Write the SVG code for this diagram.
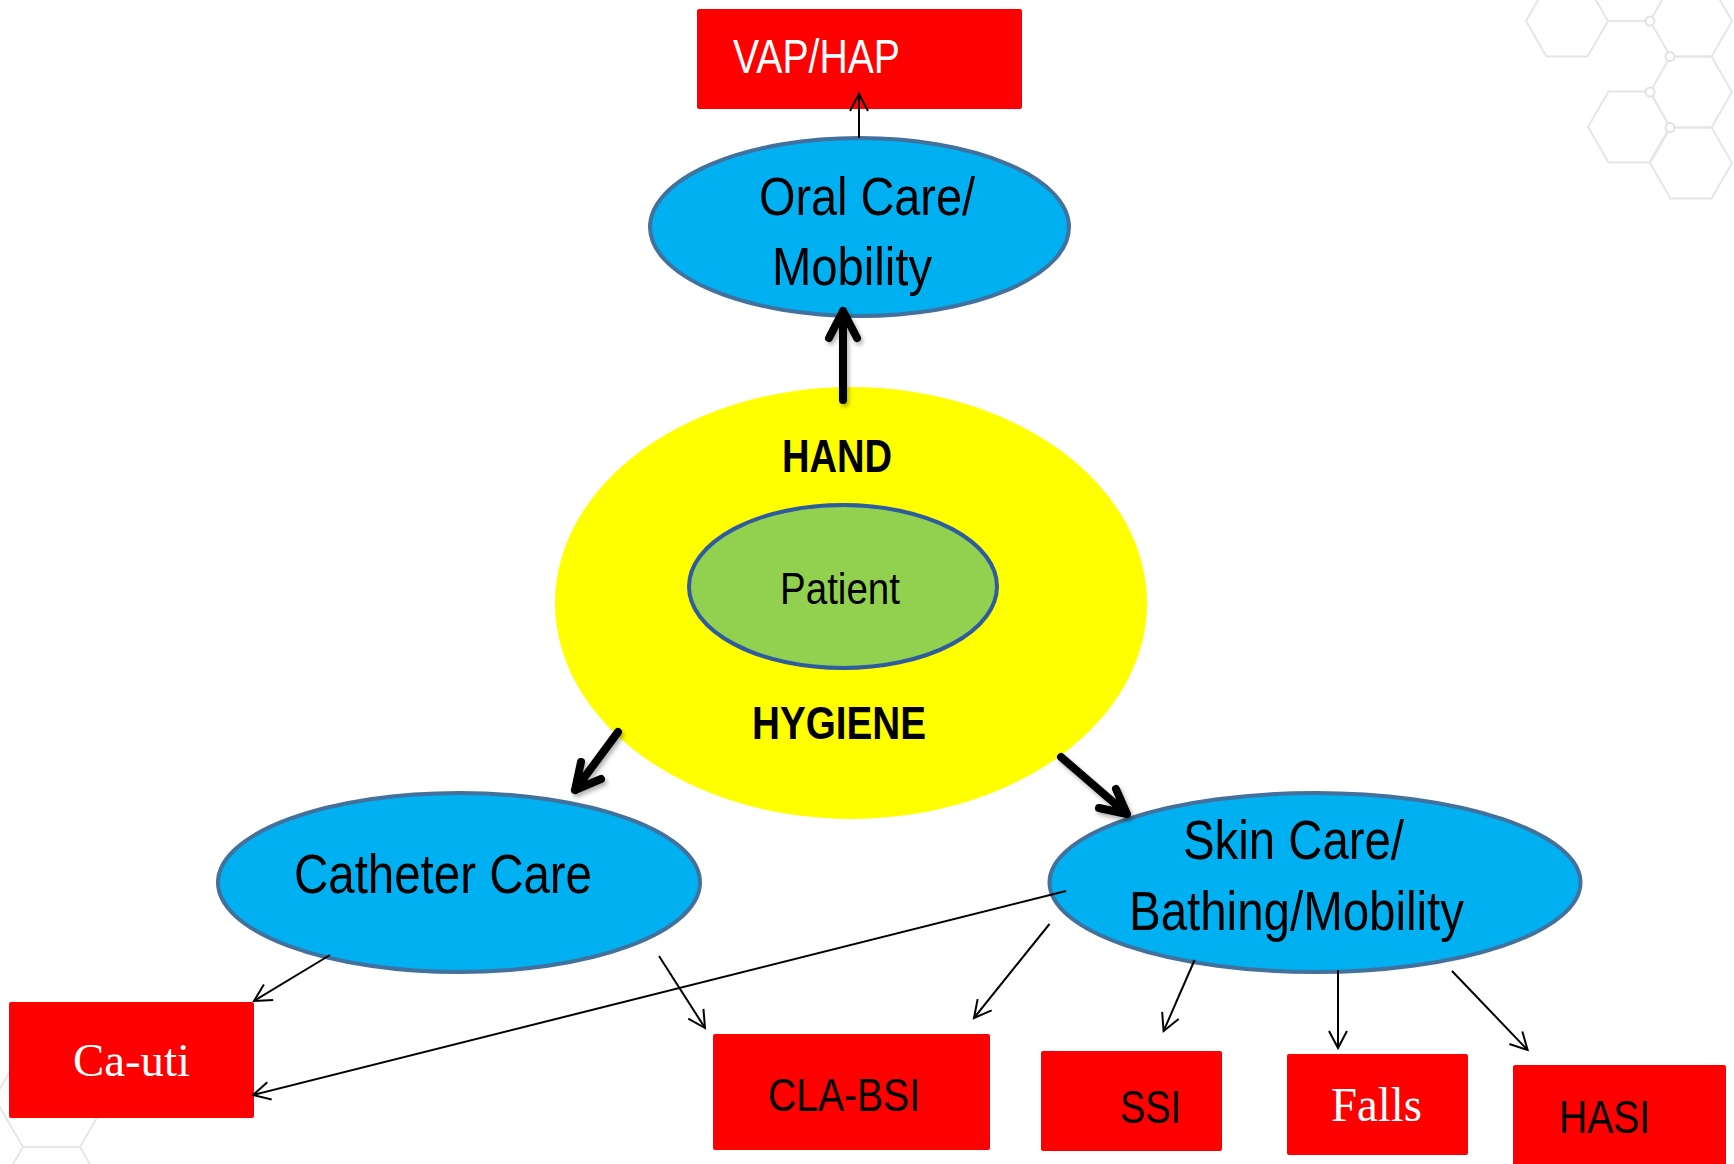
<svg xmlns="http://www.w3.org/2000/svg" width="1734" height="1164" viewBox="0 0 1734 1164">
  <defs>
    <style>
      .bg { fill: none; stroke: #e6e6e6; stroke-width: 2; }
      .dot { fill: #ffffff; stroke: #e2e2e2; stroke-width: 2; }
      .blue { fill: #00B0F0; stroke: #41719C; stroke-width: 4; }
      .red { fill: #FF0000; }
      .sans { font-family: "Liberation Sans", Arial, sans-serif; fill: #000; }
      .serif { font-family: "Liberation Serif", "Times New Roman", serif; fill: #fff; }
      .thin { fill: none; stroke: #000; stroke-width: 2; }
      .thick { fill: none; stroke: #000; stroke-width: 8; stroke-linecap: round; stroke-linejoin: round; }
    </style>
    <marker id="thinHead" markerUnits="userSpaceOnUse" markerWidth="40" markerHeight="40" refX="0" refY="0" orient="auto" overflow="visible">
      <path d="M-17,-9 L0,0 L-17,9" fill="none" stroke="#000" stroke-width="2"/>
    </marker>
    <filter id="shadow" x="-30%" y="-30%" width="160%" height="160%">
      <feDropShadow dx="2" dy="3" stdDeviation="2" flood-color="#000" flood-opacity="0.3"/>
    </filter>
  </defs>
  <rect x="0" y="0" width="1734" height="1164" fill="#ffffff"/>

  <g id="background-hexagons">
    <polygon class="bg" points="1526,21 1546.5,-14.5 1587.5,-14.5 1608,21 1587.5,56.5 1546.5,56.5"/>
    <line class="bg" x1="1608" y1="21" x2="1650" y2="21"/>
    <polygon class="bg" points="1650,21 1670.5,-14.5 1711.5,-14.5 1732,21 1711.5,56.5 1670.5,56.5"/>
    <polygon class="bg" points="1650,92 1670.5,56.5 1711.5,56.5 1732,92 1711.5,127.5 1670.5,127.5"/>
    <polygon class="bg" points="1588,127 1608.5,91.5 1649.5,91.5 1670,127 1649.5,162.5 1608.5,162.5"/>
    <polygon class="bg" points="1650,163 1670.5,127.5 1711.5,127.5 1732,163 1711.5,198.5 1670.5,198.5"/>
    <circle class="dot" cx="1650" cy="21" r="4.5"/>
    <circle class="dot" cx="1670" cy="56.5" r="4.5"/>
    <circle class="dot" cx="1650" cy="92" r="4.5"/>
    <circle class="dot" cx="1670" cy="127.5" r="4.5"/>
    <polygon class="bg" points="-5.5,1098 23,1048.6 80,1048.6 108.5,1098 80,1147 23,1147"/>
    <polyline class="bg" points="-5.5,1196 23,1147"/>
    <polyline class="bg" points="108.5,1196 80,1147"/>
  </g>

  <g id="hand-hygiene">
    <ellipse cx="851" cy="603" rx="296" ry="216" fill="#FFFF00"/>
    <text class="sans" x="782" y="472" font-size="47" font-weight="bold" textLength="110" lengthAdjust="spacingAndGlyphs">HAND</text>
    <text class="sans" x="752" y="739" font-size="47" font-weight="bold" textLength="174" lengthAdjust="spacingAndGlyphs">HYGIENE</text>
  </g>

  <g id="patient">
    <ellipse cx="843" cy="586.5" rx="154" ry="81.5" fill="#92D050" stroke="#2E5C9E" stroke-width="4"/>
    <text class="sans" x="780" y="604" font-size="45" textLength="120" lengthAdjust="spacingAndGlyphs">Patient</text>
  </g>

  <g id="oral-care">
    <ellipse class="blue" cx="859.5" cy="227" rx="209.5" ry="89"/>
    <text class="sans" x="759" y="215" font-size="53" textLength="216" lengthAdjust="spacingAndGlyphs">Oral Care/</text>
    <text class="sans" x="772" y="285" font-size="53" textLength="160" lengthAdjust="spacingAndGlyphs">Mobility</text>
  </g>

  <g id="catheter-care">
    <ellipse class="blue" cx="459" cy="882.5" rx="241" ry="89.5"/>
    <text class="sans" x="294" y="893" font-size="56" textLength="298" lengthAdjust="spacingAndGlyphs">Catheter Care</text>
  </g>

  <g id="skin-care">
    <ellipse class="blue" cx="1315" cy="882.5" rx="265.5" ry="89.5"/>
    <text class="sans" x="1183" y="859" font-size="56" textLength="221" lengthAdjust="spacingAndGlyphs">Skin Care/</text>
    <text class="sans" x="1129" y="930" font-size="56" textLength="335" lengthAdjust="spacingAndGlyphs">Bathing/Mobility</text>
  </g>

  <g id="vap-hap">
    <rect class="red" x="697" y="9" width="325" height="100" rx="2"/>
    <text x="733" y="73" font-size="49" font-family="Liberation Sans, Arial, sans-serif" fill="#fff" textLength="167" lengthAdjust="spacingAndGlyphs">VAP/HAP</text>
  </g>

  <g id="ca-uti">
    <rect class="red" x="9" y="1002" width="245" height="116" rx="2"/>
    <text class="serif" x="73" y="1076" font-size="47" textLength="117" lengthAdjust="spacingAndGlyphs">Ca-uti</text>
  </g>

  <g id="cla-bsi">
    <rect class="red" x="713" y="1034" width="277" height="116" rx="2"/>
    <text class="sans" x="768" y="1111" font-size="46" textLength="152" lengthAdjust="spacingAndGlyphs">CLA-BSI</text>
  </g>

  <g id="ssi">
    <rect class="red" x="1041" y="1051" width="181" height="100" rx="2"/>
    <text class="sans" x="1120" y="1123" font-size="46" textLength="61" lengthAdjust="spacingAndGlyphs">SSI</text>
  </g>

  <g id="falls">
    <rect class="red" x="1287" y="1054" width="181" height="101" rx="2"/>
    <text class="serif" x="1331" y="1121" font-size="48" textLength="91" lengthAdjust="spacingAndGlyphs">Falls</text>
  </g>

  <g id="hasi">
    <rect class="red" x="1513" y="1065" width="213" height="110" rx="2"/>
    <text class="sans" x="1559" y="1133" font-size="46" textLength="91" lengthAdjust="spacingAndGlyphs">HASI</text>
  </g>

  <g id="connectors">
    <g filter="url(#shadow)">
      <path class="thick" d="M843,400 L843,311 M829,338 L843,311 L857,338"/>
      <path class="thick" d="M618,732 L575,790 M581,762 L575,790 L601,779"/>
      <path class="thick" d="M1061,757 L1127,814 M1099,808 L1127,814 L1116,789"/>
    </g>
    <line class="thin" x1="859" y1="138" x2="859" y2="94" marker-end="url(#thinHead)"/>
    <line class="thin" x1="330" y1="955" x2="254" y2="1001" marker-end="url(#thinHead)"/>
    <line class="thin" x1="659" y1="956" x2="705" y2="1028" marker-end="url(#thinHead)"/>
    <line class="thin" x1="1066" y1="891" x2="253" y2="1095" marker-end="url(#thinHead)"/>
    <line class="thin" x1="1049.5" y1="924" x2="974" y2="1018" marker-end="url(#thinHead)"/>
    <line class="thin" x1="1194.6" y1="960" x2="1163.6" y2="1031" marker-end="url(#thinHead)"/>
    <line class="thin" x1="1338" y1="970" x2="1338" y2="1048" marker-end="url(#thinHead)"/>
    <line class="thin" x1="1452" y1="971" x2="1527.6" y2="1050" marker-end="url(#thinHead)"/>
  </g>
</svg>
